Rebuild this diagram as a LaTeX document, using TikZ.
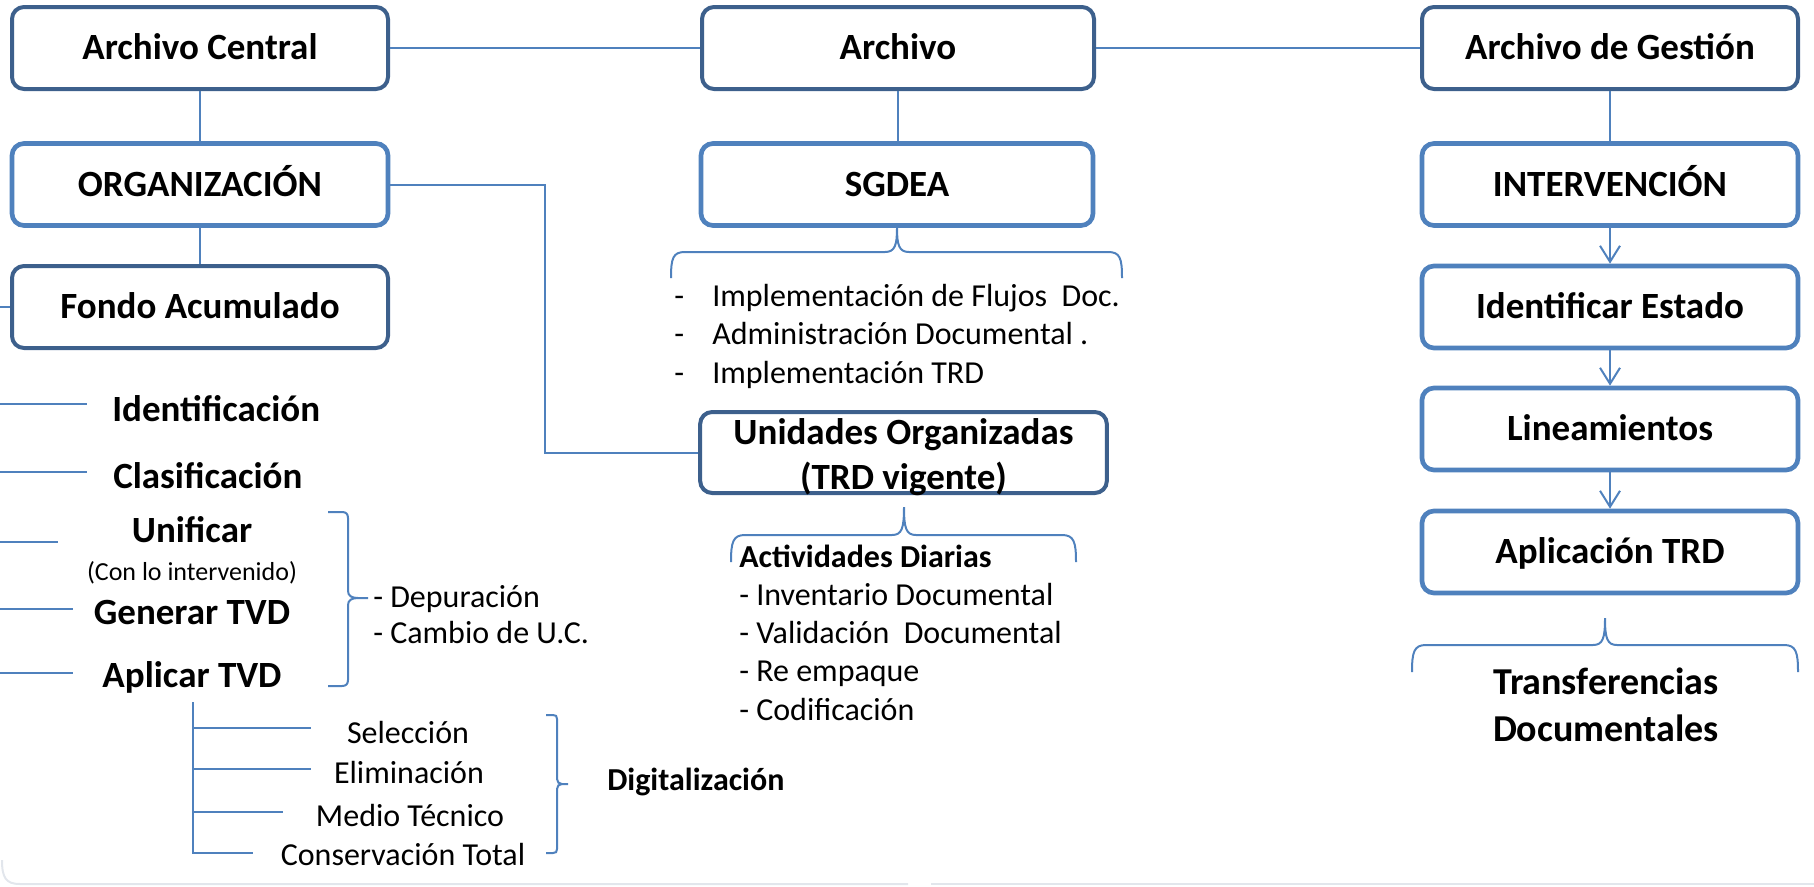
\documentclass[tikz,border=0pt]{standalone}
\usepackage{fontspec}
\setmainfont{Carlito}
\usetikzlibrary{arrows.meta}
\definecolor{azul}{RGB}{79,129,189}
\definecolor{azulosc}{RGB}{61,96,140}
\definecolor{grisborde}{RGB}{226,230,236}
\tikzset{
  caja/.style={draw, rounded corners=9pt, fill=white, inner sep=0pt,
    minimum width=282pt, minimum height=61.5pt, text height=22pt, text depth=4.1pt,
    font=\fontsize{27.75}{33.75}\selectfont\bfseries},
  cajaosc/.style={caja, draw=azulosc, line width=3pt},
  cajaclara/.style={caja, draw=azul, line width=3.5pt},
  linea/.style={draw=azul, line width=1.5pt},
  flecha/.style={linea, -{Straight Barb[length=12pt,width=15pt]}},
  tgrande/.style={inner sep=0pt, font=\fontsize{27.75}{33}\selectfont\bfseries},
  tchica/.style={inner sep=0pt, font=\fontsize{19.5}{23}\selectfont},
  tnormal/.style={inner sep=0pt, font=\fontsize{24}{28.5}\selectfont},
  tnegrita/.style={inner sep=0pt, font=\fontsize{24}{28.5}\selectfont\bfseries}
}
\begin{document}
\begin{tikzpicture}[x=0.75pt,y=0.75pt,yscale=-1,xscale=1]
\useasboundingbox (0,0) rectangle (1814,886);
% borde tenue abajo
\draw [grisborde, line width=1.5pt] (2,860) .. controls (2,878) and (6,884) .. (20,884) -- (908,884) ;
\draw [grisborde, line width=1.5pt] (931,884) -- (1814,884) ;

% cajas
\node [cajaosc] (ac) at (200,48) {Archivo Central};
\node [cajaosc, minimum width=294pt] (ar) at (898,48) {Archivo};
\node [cajaosc] (ag) at (1610,48) {Archivo de Gestión};
\node [cajaclara] (org) at (200,184.5) {ORGANIZACIÓN};
\node [cajaclara, minimum width=294pt] (sgdea) at (897,184.5) {SGDEA};
\node [cajaclara] (inter) at (1610,184.5) {INTERVENCIÓN};
\node [cajaosc] (fondo) at (200,307) {Fondo Acumulado};
\node [cajaclara] (ident) at (1610,307) {Identificar Estado};
\node [cajaclara] (lin) at (1610,429) {Lineamientos};
\node [cajaclara] (aplic) at (1610,552) {Aplicación TRD};
\node [cajaosc, minimum width=305pt, minimum height=60.75pt] (unid) at (903.5,452.5) {};
\node [tgrande, align=center, font=\fontsize{27.75}{33.75}\selectfont\bfseries] (unidtxt) at (903.5,457) {Unidades Organizadas\\(TRD vigente)};

% conectores
\draw [linea] (ac) -- (ar) ;
\draw [linea] (ar) -- (ag) ;
\draw [linea] (ac) -- (org) ;
\draw [linea] (org) -- (fondo) ;
\draw [linea] (ar.south) -- (ar.south |- sgdea.north) ;
\draw [linea] (ag) -- (inter) ;
\draw [flecha] (inter) -- (ident) ;
\draw [flecha] (ident) -- (lin) ;
\draw [flecha] (lin) -- (aplic) ;
\coordinate (codo) at (545,184.5);
\draw [linea] (org.east) -- (codo) |- (unid.west) ;
\draw [linea] (0,307) -- (fondo.west) ;

% columna izquierda
\draw [linea] (0,404) -- (87,404) ;
\draw [linea] (0,472) -- (87,472) ;
\draw [linea] (0,542) -- (58,542) ;
\draw [linea] (0,609) -- (73,609) ;
\draw [linea] (0,673) -- (73,673) ;
\node [tgrande, anchor=base west] (identif) at (112,421) {Identificación};
\node [tgrande, anchor=base west] (clasif) at (113,488) {Clasificación};
\node [tgrande, anchor=base] (unif) at (192,542) {Unificar};
\node [tchica, anchor=base] (conlo) at (192,580) {(Con lo intervenido)};
\node [tgrande, anchor=base] (gener) at (192,624) {Generar TVD};
\node [tgrande, anchor=base] (aplicar) at (192,687) {Aplicar TVD};

\draw [linea] (328,512) -- (342,512) .. controls (346,512) and (348,514) .. (348,518) -- (348,591) .. controls (348,596) and (352,598) .. (358,598) -- (368,598) ;
\draw [linea] (358,598) .. controls (352,598) and (348,600) .. (348,605) -- (348,680) .. controls (348,684) and (346,686) .. (342,686) -- (328,686) ;
\node [tnormal, anchor=base west] (depur) at (373,607) {- Depuración};
\node [tnormal, anchor=base west] (cambio) at (373,643) {- Cambio de U.C.};

% ramas de Aplicar TVD
\draw [linea] (193,702) -- (193,853) -- (253,853) ;
\draw [linea] (193,728) -- (311,728) ;
\draw [linea] (193,769) -- (311,769) ;
\draw [linea] (193,812) -- (283,812) ;
\node [tnormal, anchor=base] (selec) at (408,743) {Selección};
\node [tnormal, anchor=base] (elim) at (409,783) {Eliminación};
\node [tnormal, anchor=base] (medio) at (410,826) {Medio Técnico};
\node [tnormal, anchor=base] (conserv) at (403,865) {Conservación Total};
\draw [linea] (546,715) -- (553,715) .. controls (556,715) and (557,716) .. (557,719) -- (557,779) .. controls (557,782) and (559,784) .. (562,784) -- (568,784) ;
\draw [linea] (562,784) .. controls (559,784) and (557,786) .. (557,789) -- (557,849) .. controls (557,852) and (556,853) .. (553,853) -- (546,853) ;
\node [tnegrita, anchor=base west] (digit) at (607,790) {Digitalización};

% llave SGDEA
\draw [linea] (671,278) .. controls (671,258) and (673,252) .. (685,252) -- (885,252) .. controls (895,252) and (897,245) .. (sgdea.south) .. controls (897,245) and (899,252) .. (909,252) -- (1108,252) .. controls (1120,252) and (1122,258) .. (1122,278) ;
\foreach \t [count=\i from 0] in {Implementación de Flujos\ \ Doc., Administración Documental ., Implementación TRD} {
  \node [tnormal, anchor=base west] (guion\i) at (674,306+38.5*\i) {-};
  \node [tnormal, anchor=base west] (sg\i) at (712,306+38.5*\i) {\t};
}

% llave actividades
\draw [linea] (731,562) .. controls (731,542) and (733,535) .. (745,535) -- (892,535) .. controls (902,535) and (904,528) .. (904,507) .. controls (904,528) and (906,535) .. (916,535) -- (1062,535) .. controls (1074,535) and (1076,542) .. (1076,562) ;
\node [tnegrita, anchor=base west] (activ) at (739,567) {Actividades Diarias};
\foreach \t [count=\i] in {Inventario Documental, Validación\ \ Documental, Re empaque, Codificación} {
  \node [tnormal, anchor=base west] (act\i) at (739,567+38.25*\i) {- \t};
}

% llave transferencias
\draw [linea] (1412,672) .. controls (1412,652) and (1414,645) .. (1426,645) -- (1593,645) .. controls (1603,645) and (1605,638) .. (1605,618) .. controls (1605,638) and (1607,645) .. (1617,645) -- (1784,645) .. controls (1796,645) and (1798,652) .. (1798,672) ;
\node [inner sep=0pt, align=center, font=\fontsize{28.5}{35.25}\selectfont\bfseries] (transf) at (1606,705) {Transferencias\\Documentales};
\end{tikzpicture}
\end{document}
